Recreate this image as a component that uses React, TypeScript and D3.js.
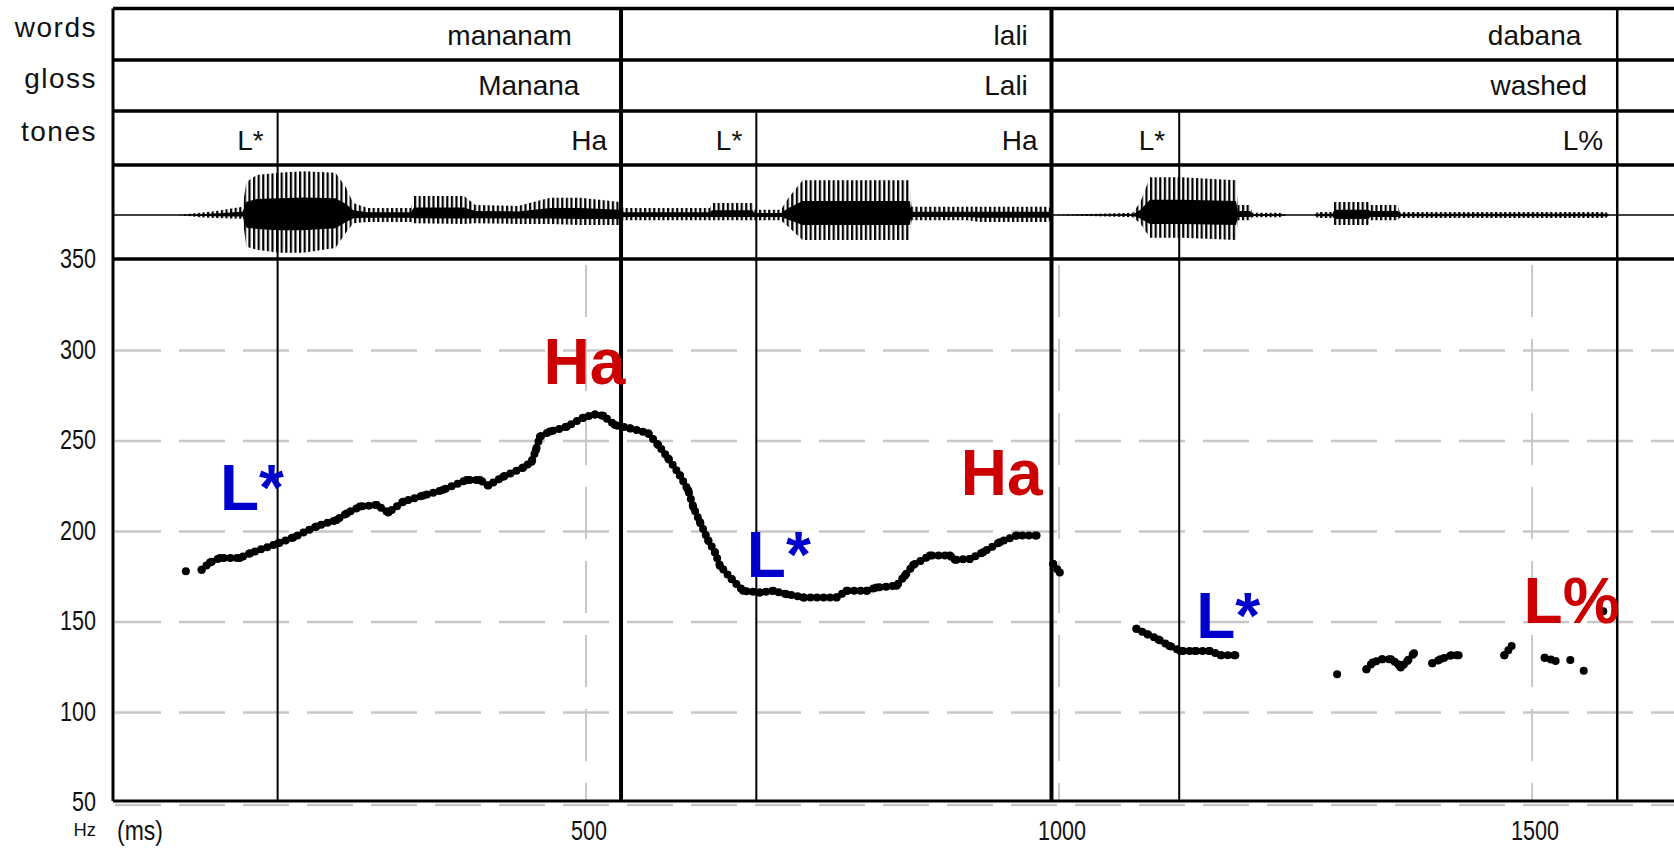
import React from 'react'
import * as d3 from 'd3'

// tiers (times in ms)
const wordLabels = ['mananam', 'lali', 'dabana']
const wordEnds = [537, 992, 1590]
const wordLabelAt = [485, 967, 1552]
const glossLabels = ['Manana', 'Lali', 'washed']
const glossLabelAt = [493, 967, 1558]
const toneLabels = ['L*', 'Ha', 'L*', 'Ha', 'L*', 'L%']
const toneTimes = [174, 537, 680, 992, 1127, 1590]

// axis ticks
const hzTicks = [50, 100, 150, 200, 250, 300, 350]
const msTicks = [500, 1000, 1500]

// f0 track, [ms, Hz], one list per voiced stretch
const f0Segments: [number, number][][] = [
  [[77, 178]],
  [
    [93.7, 178.8], [102.5, 182.9], [113, 185.3], [134, 185.3], [145, 188], [174.7, 193.5],
    [190.5, 196.7], [215, 202.8], [236.4, 206.4], [247, 210], [261, 213.8], [278.7, 214.7],
    [291, 210.5], [306.8, 216.5], [328, 219.9], [349, 223], [373.8, 228.5], [387.9, 228.5],
    [396.7, 225.4], [412.5, 230.3], [433.7, 235.3], [442.5, 238.6], [447, 245], [451.3, 252.4],
    [461.8, 255.2], [479.5, 257.9], [497, 262.9], [509.4, 264.7], [518.2, 264], [530.6, 258.8],
    [546.4, 257], [565.7, 254.3], [576.3, 247.8], [586.9, 240.4], [599.2, 231.1], [608, 222.8],
    [613.3, 213.6], [620.4, 205.2], [629.2, 195], [636.2, 188.6], [641.5, 181.1], [653.9, 173.7],
    [666.1, 167.2], [683.8, 166.3], [697.8, 167.2], [712, 165.4], [729.6, 163.6], [764.8, 163.6],
    [775.4, 167.2], [796.5, 167.2], [807.1, 169.1], [828.2, 170], [837, 175.6], [845.8, 181.5],
    [863.4, 186.7], [884.6, 186.7], [889.9, 184.4], [905.7, 184.8], [919.8, 188.6], [937.4, 194.1],
    [955.1, 197.8], [976.2, 197.8]
  ],
  [[993.8, 182], [1000.8, 177.4]],
  [
    [1081.8, 146.3], [1093.4, 143.2], [1105, 140.4], [1116.7, 136.8], [1128.3, 134],
    [1143.7, 134], [1159.3, 134], [1170.8, 131.6], [1186.3, 131.6]
  ],
  [[1293.9, 121.1]],
  [
    [1324.9, 123.9], [1331.4, 127.6], [1341.2, 129.4], [1350.8, 129.4], [1358.5, 126.7],
    [1361.2, 124.8], [1368.2, 128.5], [1375.2, 132.7]
  ],
  [[1394.5, 127.2], [1403, 129.4], [1414.6, 131.6], [1422.3, 131.6]],
  [[1470.7, 131.6], [1478.4, 136.8]],
  [[1513.3, 130.3], [1524.9, 128.5]],
  [[1540.4, 129]],
  [[1554.6, 123]],
  [[1575.2, 156]]
]

// waveform envelope (percent of full scale, above / below the zero line)
const waveTimes = [69, 92, 107, 137, 141, 152, 175, 201, 235, 246, 254, 269, 315, 318, 371, 383, 428, 462, 494, 536, 540, 631, 633, 676, 678, 706, 714, 729, 842, 844, 903, 917, 989, 994, 1078, 1086, 1096, 1130, 1187, 1189, 1202, 1204, 1234, 1240, 1270, 1273, 1289, 1291, 1327, 1329, 1358, 1360, 1578, 1582]
const waveUpper = [0, 5, 9, 19, 77, 93, 98, 102, 98, 65, 28, 16, 16, 44, 44, 23, 21, 40, 40, 30, 16, 16, 28, 28, 12, 12, 40, 81, 81, 19, 19, 19, 19, 0, 5, 30, 88, 88, 81, 23, 23, 5, 5, 0, 0, 7, 7, 30, 30, 23, 23, 7, 7, 0]
const waveLower = [0, 5, 7, 9, 74, 81, 88, 88, 77, 42, 19, 16, 16, 19, 21, 19, 21, 21, 23, 23, 12, 12, 12, 12, 12, 12, 28, 58, 58, 12, 12, 16, 16, 0, 5, 20, 53, 53, 58, 12, 12, 5, 5, 0, 0, 7, 7, 23, 23, 12, 12, 7, 7, 0]

// big pitch accent / edge tone annotations
const markLabels = ['L*', 'Ha', 'L*', 'Ha', 'L*', 'L%']
const markTimes = [113, 455, 670, 896, 1145, 1491]
const markHz = [211.7, 281.7, 175, 220, 141.2, 149.6]
const markKinds = ['accent', 'phrase', 'accent', 'phrase', 'accent', 'phrase']

const BLUE = '#0000cc'
const RED = '#cc0000'
const GRID = '#c8c8c8'
const FONT = '"Liberation Sans", Arial, Helvetica, sans-serif'

type Env = { t: number; up: number; down: number }

export default function App() {
  const W = 1674
  const H = 849
  const x = d3.scaleLinear().domain([0, 1650]).range([113, 1674])
  const y = d3.scaleLinear().domain([50, 350]).range([803, 260])
  const amp = d3.scaleLinear().domain([-100, 100]).range([258, 172])

  const top = 8.5
  const rows = [top, 60, 111, 165, 259]
  const bottom = y(50) - 2
  const left = x(0)

  const wave: Env[] = waveTimes.map((t, i) => ({ t, up: waveUpper[i], down: waveLower[i] }))
  const outer = d3.area<Env>().x(d => x(d.t)).y0(d => amp(-d.down)).y1(d => amp(d.up))
  const core = d3.area<Env>().x(d => x(d.t)).y0(d => amp(-d.down * 0.4)).y1(d => amp(d.up * 0.4))

  const f0Line = d3.line<[number, number]>().x(d => x(d[0])).y(d => y(d[1]))

  const rowLabel = { fontFamily: FONT, fontSize: 28, letterSpacing: 1.5, fill: '#111' }
  const cellText = { fontFamily: FONT, fontSize: 28, fill: '#111' }

  return (
    <svg width={W} height={H} style={{ position: 'absolute', left: 0, top: 0, background: '#fff' }}>
      <defs>
        <pattern id='stripes' width={4.6} height={10} patternUnits='userSpaceOnUse'>
          <rect width={2.2} height={10} fill='#000' />
        </pattern>
        <clipPath id='wave-clip'>
          <rect x={left} y={rows[3]} width={W - left} height={rows[4] - rows[3]} />
        </clipPath>
      </defs>

      {/* grid in pitch panel */}
      {hzTicks.filter(v => v < 350).map(v => (
        <line key={'g' + v} x1={left + 2} x2={W} y1={v === 50 ? y(v) + 2 : y(v)} y2={v === 50 ? y(v) + 2 : y(v)}
          stroke={GRID} strokeWidth={2.5} strokeDasharray='46 18' />
      ))}
      {msTicks.map(t => (
        <line key={'v' + t} x1={x(t)} x2={x(t)} y1={rows[4]} y2={bottom}
          stroke={GRID} strokeWidth={2} strokeDasharray='52 22' strokeDashoffset={-6} />
      ))}

      {/* waveform */}
      <g clipPath='url(#wave-clip)'>
        <line x1={left} x2={W} y1={amp(0)} y2={amp(0)} stroke='#000' strokeWidth={1.5} />
        <path d={outer(wave) ?? ''} fill='url(#stripes)' />
        <path d={core(wave) ?? ''} fill='#000' />
      </g>

      {/* frame */}
      {rows.map((r, i) => (
        <line key={'r' + i} x1={left} x2={W} y1={r} y2={r} stroke='#000' strokeWidth={3.5} />
      ))}
      <line x1={left} x2={W} y1={bottom} y2={bottom} stroke='#000' strokeWidth={3} />
      <line x1={left} x2={left} y1={top} y2={bottom} stroke='#000' strokeWidth={3} />
      {wordEnds.map((t, i) => (
        <line key={'w' + t} x1={x(t)} x2={x(t)} y1={top} y2={bottom}
          stroke='#000' strokeWidth={i === 2 ? 2.5 : 4} />
      ))}
      {toneTimes.filter(t => !wordEnds.includes(t)).map(t => (
        <line key={'t' + t} x1={x(t)} x2={x(t)} y1={rows[2]} y2={bottom} stroke='#000' strokeWidth={2} />
      ))}

      {/* tier labels */}
      <text x={97} y={37} textAnchor='end' {...rowLabel}>words</text>
      <text x={97} y={88} textAnchor='end' {...rowLabel}>gloss</text>
      <text x={97} y={141} textAnchor='end' {...rowLabel}>tones</text>

      {wordLabels.map((w, i) => (
        <text key={'wl' + i} x={x(wordLabelAt[i])} y={45} textAnchor='end' {...cellText}>{w}</text>
      ))}
      {glossLabels.map((w, i) => (
        <text key={'gl' + i} x={x(glossLabelAt[i])} y={95} textAnchor='end' {...cellText}>{w}</text>
      ))}
      {toneLabels.map((w, i) => (
        <text key={'tl' + i} x={x(toneTimes[i]) - 14} y={150} textAnchor='end' {...cellText}>{w}</text>
      ))}

      {/* y axis labels */}
      {hzTicks.map(v => (
        <text key={'yl' + v} transform={`translate(96,${y(v) + 8}) scale(0.8,1)`}
          textAnchor='end' fontFamily={FONT} fontSize={27} fill='#111'>{v}</text>
      ))}
      <text transform={`translate(96,${y(50) + 33}) scale(0.8,0.8)`} textAnchor='end'
        fontFamily={FONT} fontSize={23} fill='#111'>Hz</text>

      {/* x axis labels */}
      <text transform={`translate(117,840) scale(0.85,1)`} fontFamily={FONT} fontSize={27} fill='#111'>(ms)</text>
      {msTicks.map(t => (
        <text key={'xl' + t} transform={`translate(${x(t) + 3},840) scale(0.8,1)`} textAnchor='middle'
          fontFamily={FONT} fontSize={27} fill='#111'>{t}</text>
      ))}

      {/* f0 track */}
      {f0Segments.map((seg, i) => (
        <g key={'f' + i}>
          {seg.length > 1 && (
            <path d={f0Line(seg) ?? ''} fill='none' stroke='#000' strokeWidth={8}
              strokeLinecap='round' strokeDasharray='0 6.5' />
          )}
          {seg.map((p, j) => (
            <circle key={j} cx={x(p[0])} cy={y(p[1])} r={4} fill='#000' />
          ))}
        </g>
      ))}

      {/* annotations */}
      {markLabels.map((m, i) => (
        <text key={'m' + i} x={x(markTimes[i])} y={y(markHz[i])} fontFamily={FONT} fontWeight='bold'
          fontSize={64} fill={markKinds[i] === 'accent' ? BLUE : RED}>{m}</text>
      ))}
    </svg>
  )
}
